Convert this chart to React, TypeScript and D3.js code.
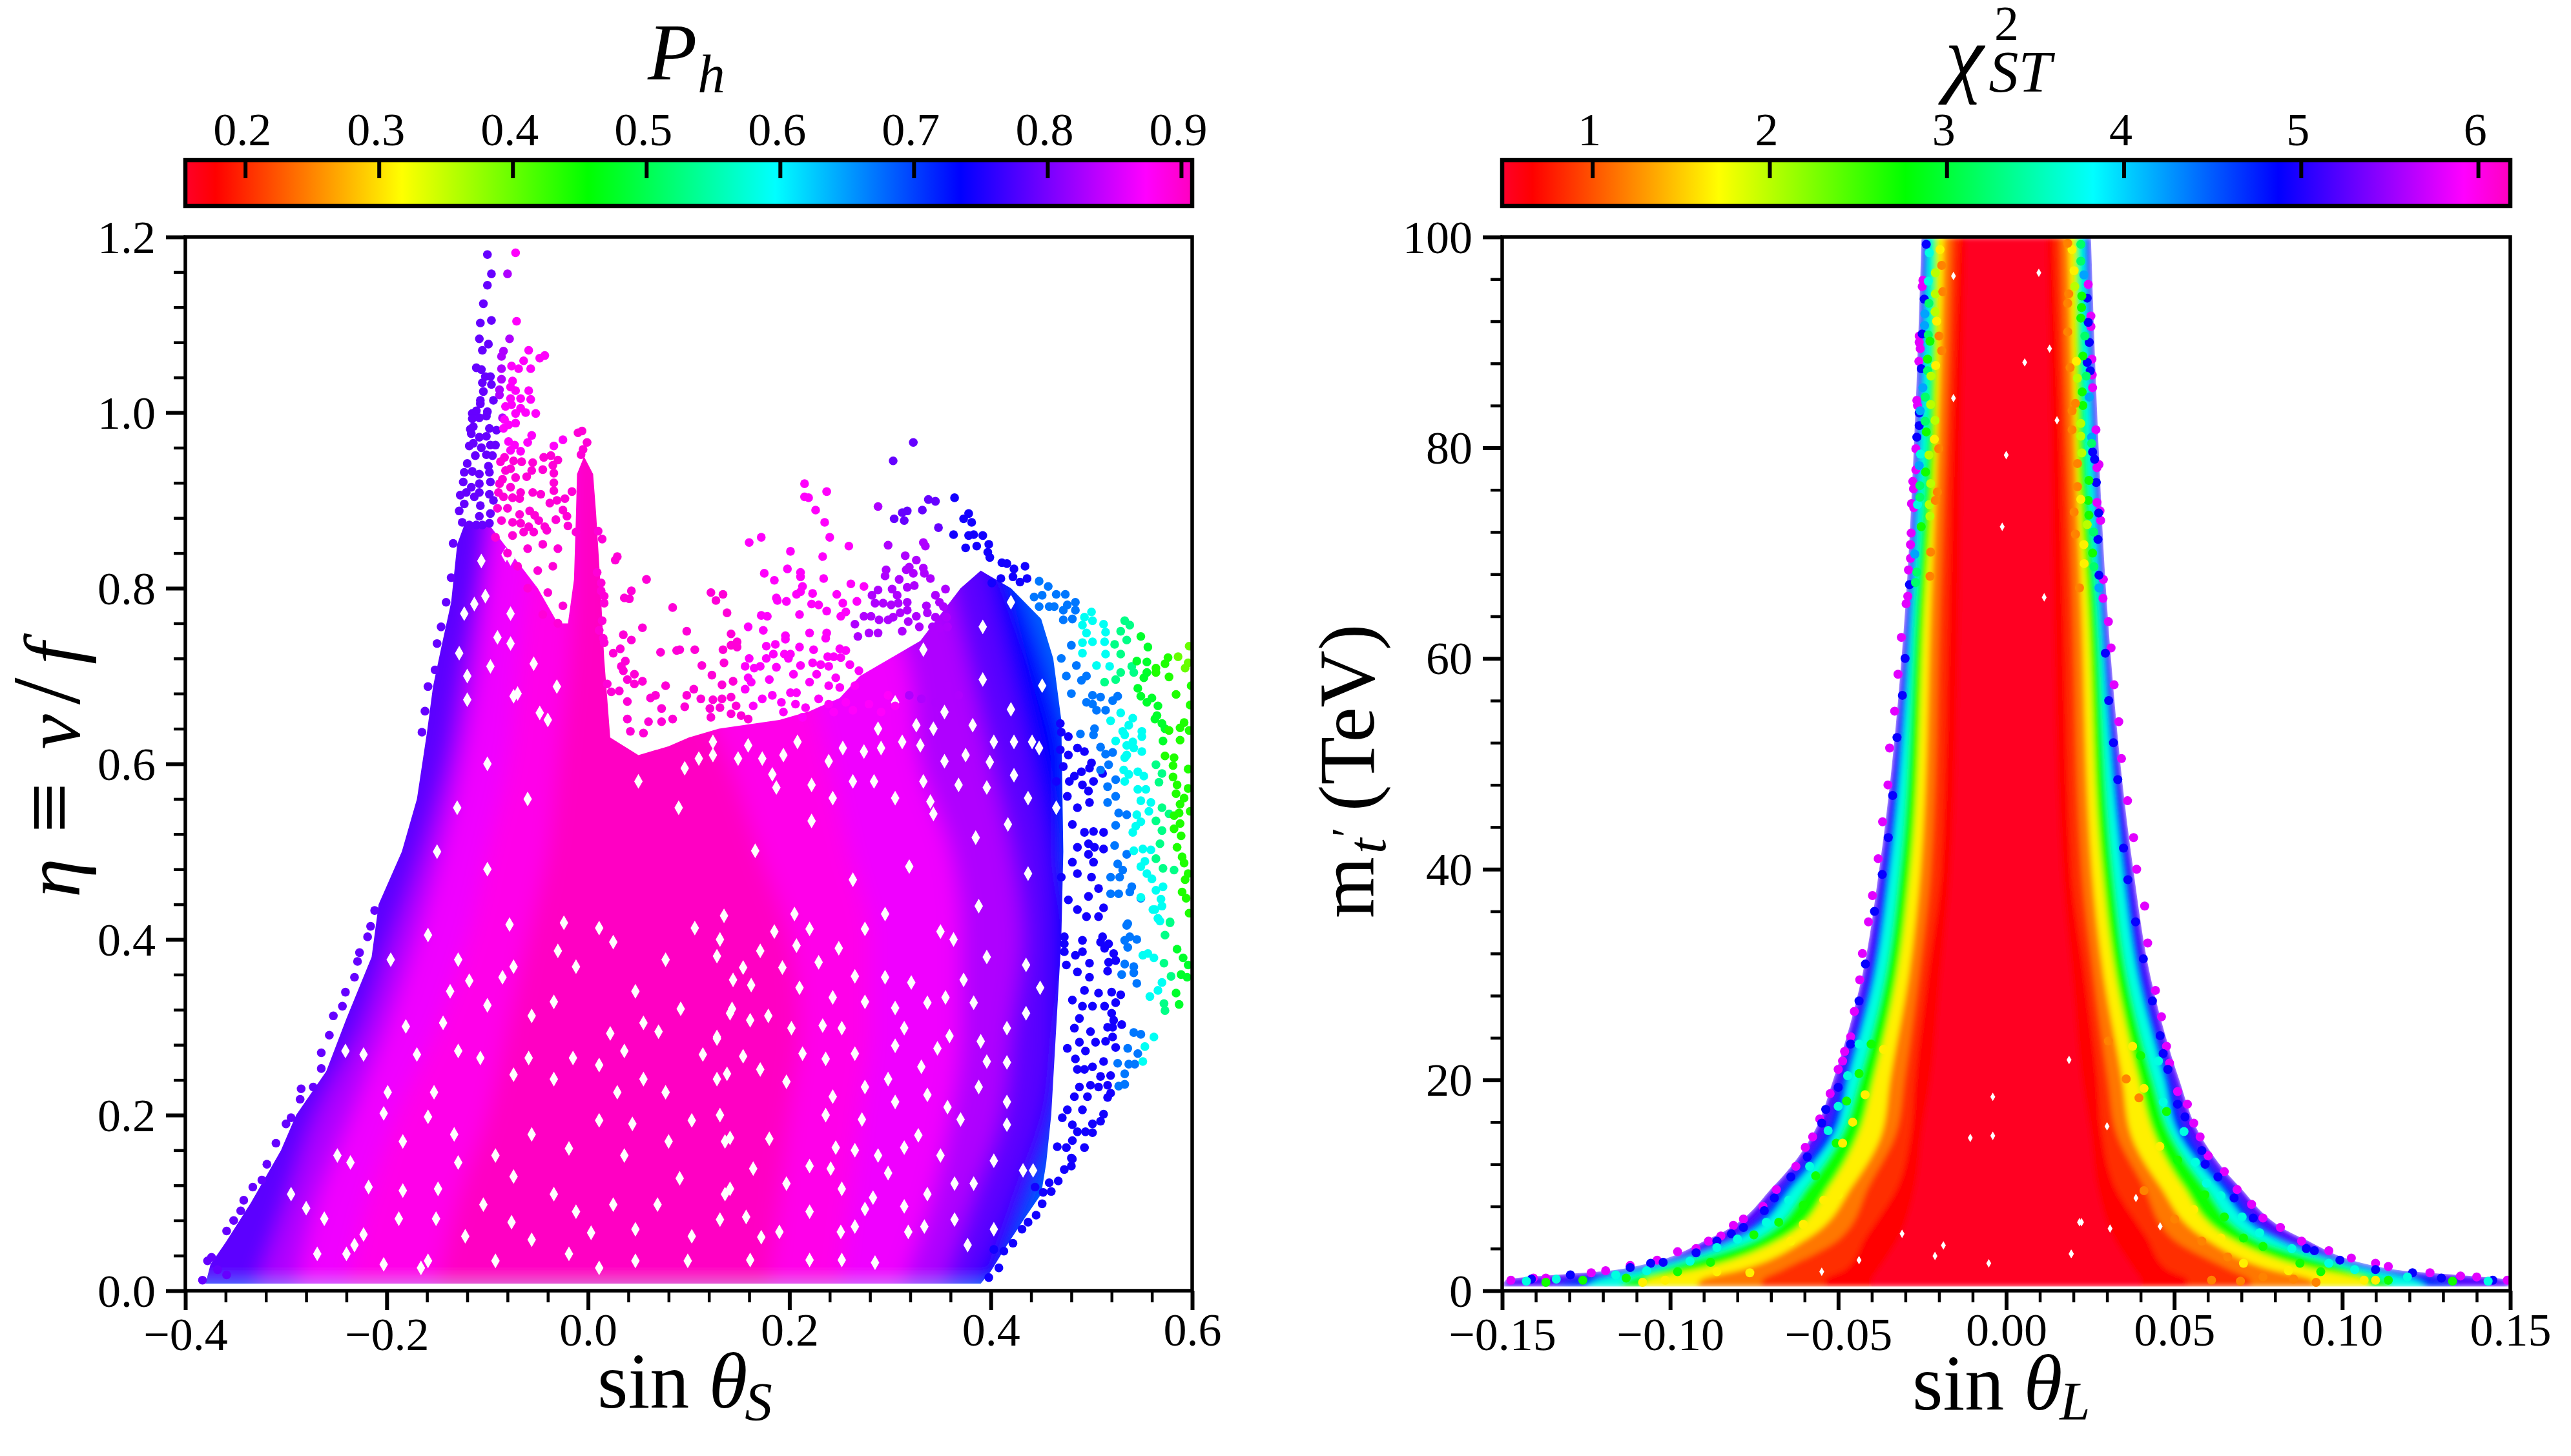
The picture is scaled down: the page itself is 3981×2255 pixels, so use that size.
import { useEffect, useRef } from "react";
import * as d3 from "d3";

type Pt = [number, number];

// gist_rainbow, as seen on both colour bars
const cmapPos = [0, 0.03, 0.215, 0.4, 0.586, 0.77, 0.954, 1];
const cmapColors = ["#ff0029", "#ff0000", "#ffff00", "#00ff00", "#00ffff", "#0000ff", "#ff00ff", "#ff00bf"];

const phRange: Pt = [0.155, 0.908];
const phTicks = [0.2, 0.3, 0.4, 0.5, 0.6, 0.7, 0.8, 0.9];
const chiRange: Pt = [0.489, 6.18];
const chiTicks = [1, 2, 3, 4, 5, 6];

const leftXTicks = [-0.4, -0.2, 0, 0.2, 0.4, 0.6];
const leftYTicks = [0, 0.2, 0.4, 0.6, 0.8, 1.0, 1.2];
const leftXMinor = [-0.36, -0.32, -0.28, -0.24, -0.16, -0.12, -0.08, -0.04, 0.04, 0.08, 0.12, 0.16, 0.24, 0.28, 0.32, 0.36, 0.44, 0.48, 0.52, 0.56];
const leftYMinor = [0.04, 0.08, 0.12, 0.16, 0.24, 0.28, 0.32, 0.36, 0.44, 0.48, 0.52, 0.56, 0.64, 0.68, 0.72, 0.76, 0.84, 0.88, 0.92, 0.96, 1.04, 1.08, 1.12, 1.16];
const rightXTicks = [-0.15, -0.1, -0.05, 0, 0.05, 0.1, 0.15];
const rightYTicks = [0, 20, 40, 60, 80, 100];
const rightXMinor = [-0.14, -0.13, -0.12, -0.11, -0.09, -0.08, -0.07, -0.06, -0.04, -0.03, -0.02, -0.01, 0.01, 0.02, 0.03, 0.04, 0.06, 0.07, 0.08, 0.09, 0.11, 0.12, 0.13, 0.14];
const rightYMinor = [4, 8, 12, 16, 24, 28, 32, 36, 44, 48, 52, 56, 64, 68, 72, 76, 84, 88, 92, 96];

// left panel: edge of the dense part of the cloud, (sin theta_S, eta)
const bodyOutline: Pt[] = [
  [-0.38, 0.008], [-0.375, 0.03], [-0.36, 0.055], [-0.335, 0.1], [-0.305, 0.16], [-0.29, 0.2], [-0.26, 0.25], [-0.24, 0.31], [-0.215, 0.38], [-0.208, 0.44],
  [-0.185, 0.5], [-0.17, 0.56], [-0.16, 0.636], [-0.154, 0.688], [-0.145, 0.737], [-0.136, 0.784], [-0.13, 0.85], [-0.122, 0.875], [-0.1, 0.875], [-0.09, 0.86],
  [-0.07, 0.83], [-0.05, 0.8], [-0.03, 0.76], [-0.02, 0.76], [-0.014, 0.81], [-0.012, 0.885], [-0.011, 0.93], [-0.004, 0.95], [0.005, 0.93], [0.008, 0.885],
  [0.012, 0.81], [0.016, 0.72], [0.022, 0.63], [0.05, 0.61], [0.08, 0.62], [0.1, 0.63], [0.13, 0.64], [0.16, 0.645], [0.19, 0.65], [0.22, 0.66],
  [0.25, 0.675], [0.27, 0.7], [0.3, 0.72], [0.33, 0.74], [0.35, 0.77], [0.37, 0.8], [0.39, 0.82], [0.42, 0.8], [0.45, 0.765], [0.462, 0.72],
  [0.47, 0.65], [0.472, 0.5], [0.47, 0.4], [0.465, 0.3], [0.46, 0.2], [0.455, 0.145], [0.45, 0.11], [0.435, 0.085], [0.415, 0.05],
  [0.4, 0.022], [0.39, 0.008],
];

// left panel: where P_h changes colour, read row by row
const etaRows = [0, 0.1, 0.2, 0.3, 0.4, 0.5, 0.6, 0.7, 0.8, 0.9, 1.0];
const farLeft = [-0.6, -0.6, -0.6, -0.6, -0.6, -0.6, -0.6, -0.6, -0.6, -0.6, -0.6];
const rightP68 = [0.45, 0.48, 0.51, 0.52, 0.52, 0.52, 0.51, 0.5, 0.48, 0.46, 0.46];
const rightP735 = [0.41, 0.44, 0.47, 0.48, 0.49, 0.48, 0.48, 0.46, 0.43, 0.4, 0.4];
const rightP78 = [0.38, 0.42, 0.45, 0.46, 0.46, 0.455, 0.44, 0.42, 0.4, 0.38, 0.38];
const leftP83 = [-0.33, -0.3, -0.27, -0.225, -0.195, -0.165, -0.14, -0.125, -0.11, -0.1, -0.095];
const rightP83 = [0.35, 0.38, 0.41, 0.42, 0.43, 0.42, 0.4, 0.38, 0.36, 0.34, 0.34];
const leftP865 = [-0.29, -0.27, -0.235, -0.2, -0.17, -0.145, -0.125, -0.11, -0.1, -0.09, -0.085];
const rightP865 = [0.31, 0.34, 0.36, 0.37, 0.37, 0.36, 0.33, 0.32, 0.3, 0.3, 0.3];
const leftP885 = [-0.24, -0.22, -0.19, -0.15, -0.12, -0.1, -0.08, -0.07, -0.06, -0.05, -0.05];
const rightP885 = [0.25, 0.26, 0.27, 0.28, 0.28, 0.26, 0.24, 0.22, 0.2, 0.2, 0.2];
const leftP905 = [-0.15, -0.13, -0.1, -0.08, -0.06, -0.04, -0.03, -0.02, -0.015, -0.015, -0.012];
const rightP905 = [0.18, 0.19, 0.2, 0.21, 0.2, 0.17, 0.14, 0.1, 0.05, 0.02, 0.012];

const dotsP79: Pt[] = [
  [-0.1, 1.18], [-0.096, 1.158], [-0.1, 1.145], [-0.104, 1.124], [-0.107, 1.102], [-0.108, 1.084], [-0.099, 1.078], [-0.105, 1.071], [-0.096, 1.105], [-0.111, 1.051],
  [-0.106, 1.049], [-0.102, 1.041], [-0.097, 1.041], [-0.105, 1.034], [-0.096, 1.032], [-0.104, 1.024], [-0.107, 1.014], [-0.107, 1.01], [-0.094, 1.014], [-0.115, 0.999],
  [-0.111, 1.002], [-0.1, 1.001], [-0.115, 0.993], [-0.108, 0.994], [-0.101, 0.996], [-0.117, 0.981], [-0.114, 0.984], [-0.116, 0.976], [-0.108, 0.972], [-0.101, 0.973],
  [-0.098, 0.982], [-0.091, 0.98], [-0.118, 0.962], [-0.114, 0.965], [-0.106, 0.96], [-0.097, 0.963], [-0.092, 0.963], [-0.101, 0.952], [-0.112, 0.951], [-0.095, 0.951],
  [-0.12, 0.942], [-0.123, 0.932], [-0.115, 0.933], [-0.108, 0.93], [-0.099, 0.939], [-0.098, 0.932], [-0.124, 0.921], [-0.097, 0.921], [-0.116, 0.915], [-0.108, 0.919],
  [-0.121, 0.909], [-0.127, 0.906], [-0.113, 0.904], [-0.108, 0.909], [-0.098, 0.907], [-0.123, 0.896], [-0.094, 0.9], [-0.128, 0.888], [-0.107, 0.894], [-0.108, 0.882],
  [-0.097, 0.885], [-0.125, 0.875], [-0.118, 0.872], [-0.111, 0.872], [-0.105, 0.872], [-0.098, 0.874], [-0.134, 0.851], [-0.136, 0.812], [-0.141, 0.784], [-0.146, 0.756],
  [-0.15, 0.737], [-0.152, 0.707], [-0.159, 0.688], [-0.162, 0.66], [-0.165, 0.636],
  [0.323, 0.966], [0.303, 0.945], [0.338, 0.901], [0.345, 0.899], [0.332, 0.889], [0.312, 0.886], [0.317, 0.888], [0.304, 0.879], [0.314, 0.877], [0.348, 0.869],
  [-0.383, 0.012], [-0.378, 0.034], [-0.374, 0.038], [-0.359, 0.068], [-0.352, 0.08], [-0.345, 0.091], [-0.342, 0.103], [-0.333, 0.118], [-0.324, 0.126], [-0.319, 0.144],
  [-0.31, 0.168], [-0.3, 0.19], [-0.295, 0.197], [-0.285, 0.23], [-0.286, 0.218], [-0.273, 0.232], [-0.265, 0.253], [-0.265, 0.271], [-0.257, 0.291], [-0.253, 0.313],
  [-0.244, 0.324], [-0.241, 0.34], [-0.232, 0.357], [-0.229, 0.375], [-0.227, 0.385], [-0.219, 0.403], [-0.216, 0.415], [-0.212, 0.433], [-0.368, 0.024], [-0.359, 0.018],
];
const dotsP83: Pt[] = [
  [-0.08, 1.158], [-0.078, 1.084], [-0.084, 1.07], [-0.086, 1.064], [-0.086, 1.05], [-0.086, 1.038], [-0.088, 1.026], [-0.088, 1.02], [-0.085, 0.994],
  [0.288, 0.893], [0.298, 0.849], [0.315, 0.837], [0.326, 0.832], [0.333, 0.852], [0.335, 0.848], [0.296, 0.821], [0.295, 0.814], [0.316, 0.821], [0.319, 0.824], [0.323, 0.817],
  [0.333, 0.823], [0.334, 0.817], [0.34, 0.811], [0.309, 0.81], [0.317, 0.801], [0.324, 0.803], [0.302, 0.799], [0.288, 0.798], [0.282, 0.792], [0.307, 0.792],
  [0.285, 0.783], [0.293, 0.783], [0.301, 0.781], [0.308, 0.783], [0.317, 0.784], [0.317, 0.775], [0.345, 0.792], [0.355, 0.799], [0.349, 0.784], [0.353, 0.779],
  [0.336, 0.78], [0.31, 0.772], [0.303, 0.767], [0.298, 0.764], [0.326, 0.768], [0.337, 0.772], [0.345, 0.767], [0.356, 0.767], [0.318, 0.762], [0.274, 0.768],
  [0.281, 0.768], [0.289, 0.764], [0.265, 0.759], [0.329, 0.756], [0.342, 0.756], [0.349, 0.754], [0.357, 0.756], [0.312, 0.751], [0.279, 0.749], [0.288, 0.749],
  [0.268, 0.745], [0.319, 0.678], [0.331, 0.674], [0.345, 0.67], [0.357, 0.689], [0.368, 0.678],
];
const dotsP875: Pt[] = [
  [-0.072, 1.182], [-0.071, 1.104], [-0.059, 1.071], [-0.048, 1.062], [-0.043, 1.065], [-0.064, 1.059], [-0.076, 1.053], [-0.069, 1.05], [-0.057, 1.05], [-0.075, 1.036],
  [-0.077, 1.029], [-0.072, 1.025], [-0.059, 1.025], [-0.077, 1.016], [-0.067, 1.016], [-0.057, 1.015], [-0.082, 1.007], [-0.076, 1.009], [-0.067, 1.005], [-0.062, 1.0],
  [-0.052, 0.999], [-0.072, 0.999], [-0.083, 0.992], [-0.079, 0.986], [-0.072, 0.988], [-0.084, 0.982], [-0.056, 0.974], [-0.06, 0.966], [-0.079, 0.967], [-0.073, 0.963],
  [-0.077, 0.957], [-0.067, 0.956], [-0.034, 0.962], [-0.025, 0.969],
  [0.215, 0.919], [0.237, 0.91], [0.215, 0.904], [0.219, 0.903], [0.226, 0.889], [0.235, 0.875], [0.24, 0.858], [0.259, 0.848], [0.172, 0.858], [0.16, 0.852],
  [0.201, 0.842], [0.233, 0.836], [0.198, 0.822], [0.211, 0.818], [0.211, 0.813], [0.175, 0.817], [0.185, 0.809], [0.234, 0.811], [0.261, 0.805], [0.274, 0.802],
  [0.213, 0.802], [0.211, 0.796], [0.207, 0.793], [0.223, 0.794], [0.247, 0.793], [0.187, 0.789], [0.188, 0.786], [0.197, 0.785], [0.222, 0.782], [0.229, 0.781],
  [0.253, 0.783], [0.267, 0.785], [0.237, 0.774], [0.256, 0.773], [0.251, 0.768], [0.21, 0.77], [0.172, 0.769], [0.178, 0.768], [0.159, 0.756], [0.174, 0.752],
  [0.22, 0.749], [0.196, 0.746], [0.196, 0.742], [0.237, 0.749], [0.236, 0.743], [0.21, 0.733], [0.177, 0.734], [0.186, 0.736], [0.224, 0.73], [0.25, 0.731],
  [0.256, 0.729], [0.184, 0.725], [0.177, 0.72], [0.195, 0.725], [0.201, 0.725], [0.199, 0.72], [0.238, 0.722], [0.244, 0.722], [0.16, 0.72], [0.156, 0.711],
  [0.165, 0.709], [0.171, 0.711], [0.187, 0.71], [0.211, 0.712], [0.223, 0.715], [0.231, 0.713], [0.239, 0.711], [0.251, 0.721], [0.26, 0.713], [0.159, 0.698],
  [0.227, 0.702], [0.204, 0.702], [0.269, 0.706], [0.246, 0.698], [0.156, 0.685], [0.162, 0.693], [0.18, 0.696], [0.201, 0.681], [0.207, 0.681], [0.22, 0.693],
  [0.239, 0.689], [0.25, 0.687], [0.265, 0.689],
  [0.164, 0.666], [0.173, 0.674], [0.183, 0.678], [0.192, 0.67], [0.194, 0.659], [0.206, 0.668], [0.216, 0.664], [0.213, 0.653], [0.229, 0.674], [0.239, 0.668],
  [0.256, 0.67], [0.244, 0.659], [0.263, 0.661], [0.279, 0.668], [0.291, 0.659], [0.298, 0.678], [0.305, 0.666],
];
const dotsP895: Pt[] = [
  [-0.01, 0.977], [-0.006, 0.979], [-0.001, 0.966], [-0.005, 0.958], [-0.007, 0.952], [-0.044, 0.949], [-0.037, 0.951], [-0.03, 0.946], [-0.035, 0.94], [-0.055, 0.943],
  [-0.066, 0.944], [-0.074, 0.945], [-0.083, 0.949], [-0.087, 0.944], [-0.056, 0.934], [-0.045, 0.935], [-0.034, 0.931], [-0.061, 0.927], [-0.072, 0.926], [-0.082, 0.934],
  [-0.077, 0.936], [-0.085, 0.924], [-0.088, 0.919], [-0.034, 0.92], [-0.034, 0.911], [-0.055, 0.909], [-0.047, 0.907], [-0.016, 0.91], [-0.023, 0.902], [-0.031, 0.9],
  [-0.038, 0.897], [-0.077, 0.915], [-0.067, 0.909], [-0.075, 0.903], [-0.068, 0.902], [-0.089, 0.909], [-0.084, 0.904], [-0.09, 0.891], [-0.08, 0.891], [-0.068, 0.884],
  [-0.058, 0.888], [-0.053, 0.883], [-0.049, 0.877], [-0.032, 0.878], [-0.025, 0.889], [-0.021, 0.882], [-0.075, 0.875], [-0.043, 0.87], [-0.02, 0.871], [-0.086, 0.877],
  [-0.067, 0.874], [-0.059, 0.87], [-0.041, 0.866], [-0.054, 0.864], [-0.012, 0.864], [-0.092, 0.858], [-0.075, 0.86], [-0.064, 0.864], [-0.08, 0.84], [-0.06, 0.845],
  [-0.045, 0.85], [-0.03, 0.845], [-0.07, 0.825], [-0.05, 0.82], [-0.035, 0.825], [-0.06, 0.8], [-0.04, 0.795], [-0.025, 0.78], [-0.03, 0.76], [-0.045, 0.77],
  [0.01, 0.865], [0.014, 0.856], [0.029, 0.836], [0.027, 0.832], [0.058, 0.81], [0.043, 0.797], [0.036, 0.789], [0.041, 0.788], [0.084, 0.778], [0.054, 0.755],
  [0.035, 0.747], [0.043, 0.741], [0.032, 0.731], [0.025, 0.726], [0.072, 0.727], [0.088, 0.729], [0.037, 0.717], [0.033, 0.711], [0.035, 0.706], [0.046, 0.702],
  [0.039, 0.696], [0.054, 0.694], [0.046, 0.691], [0.077, 0.689], [0.019, 0.691], [0.031, 0.683], [0.023, 0.682], [0.067, 0.678], [0.062, 0.675], [0.039, 0.671],
  [0.073, 0.663], [0.039, 0.651], [0.06, 0.648], [0.073, 0.648], [0.084, 0.651], [0.042, 0.637], [0.055, 0.635], [0.013, 0.797], [0.016, 0.791], [0.009, 0.818],
  [0.013, 0.806], [0.016, 0.783], [0.014, 0.763], [0.011, 0.752], [0.015, 0.743], [0.016, 0.738], [0.122, 0.795], [0.134, 0.793], [0.127, 0.786], [0.138, 0.772],
  [0.098, 0.751], [0.142, 0.748], [0.148, 0.739], [0.142, 0.735], [0.148, 0.733], [0.134, 0.73], [0.106, 0.73], [0.091, 0.73], [0.135, 0.715], [0.113, 0.712],
  [0.123, 0.701], [0.133, 0.69], [0.144, 0.694], [0.105, 0.685], [0.098, 0.678], [0.112, 0.674], [0.124, 0.673], [0.133, 0.674], [0.142, 0.676], [0.096, 0.665],
  [0.121, 0.663], [0.122, 0.653], [0.131, 0.664], [0.142, 0.657], [0.147, 0.666], [0.152, 0.655], [0.159, 0.651],
];
const dotsP745: Pt[] = [
  [0.364, 0.903], [0.378, 0.885], [0.373, 0.879], [0.381, 0.875], [0.363, 0.861], [0.383, 0.861], [0.392, 0.86], [0.378, 0.86], [0.386, 0.848], [0.398, 0.85],
  [0.397, 0.841], [0.375, 0.846], [0.399, 0.835], [0.411, 0.829], [0.416, 0.828], [0.423, 0.822], [0.434, 0.825], [0.436, 0.811], [0.422, 0.813], [0.429, 0.807],
  [0.41, 0.811], [0.401, 0.806], [0.511, 0.403], [0.517, 0.395], [0.509, 0.397], [0.513, 0.39], [0.522, 0.384], [0.524, 0.376], [0.517, 0.374], [0.516, 0.364],
  [0.507, 0.339], [0.52, 0.34], [0.529, 0.337], [0.524, 0.328], [0.513, 0.324], [0.52, 0.316], [0.522, 0.308], [0.53, 0.303], [0.516, 0.3], [0.521, 0.3],
  [0.521, 0.289], [0.514, 0.284], [0.524, 0.277], [0.512, 0.261], [0.519, 0.245], [0.509, 0.244], [0.516, 0.234], [0.507, 0.232], [0.519, 0.225], [0.516, 0.22],
  [0.512, 0.201], [0.509, 0.193], [0.501, 0.19], [0.501, 0.18], [0.493, 0.163],
  [0.398, 0.015], [0.408, 0.026], [0.403, 0.047], [0.413, 0.045], [0.422, 0.054], [0.431, 0.07], [0.437, 0.078], [0.445, 0.086], [0.451, 0.099], [0.46, 0.113],
  [0.452, 0.112], [0.444, 0.118], [0.467, 0.125], [0.458, 0.123], [0.48, 0.142], [0.473, 0.138], [0.481, 0.15],
  [0.469, 0.646], [0.47, 0.636], [0.477, 0.631], [0.486, 0.618], [0.493, 0.614], [0.469, 0.616], [0.477, 0.61], [0.5, 0.601], [0.498, 0.595], [0.472, 0.597],
  [0.49, 0.591], [0.491, 0.576], [0.502, 0.58], [0.511, 0.589], [0.497, 0.569], [0.478, 0.58], [0.483, 0.586], [0.465, 0.58], [0.476, 0.563], [0.486, 0.55],
  [0.498, 0.556], [0.481, 0.531], [0.493, 0.522], [0.502, 0.523], [0.512, 0.522], [0.497, 0.509], [0.503, 0.505], [0.512, 0.503], [0.486, 0.505], [0.497, 0.497],
  [0.502, 0.488], [0.481, 0.488], [0.47, 0.471], [0.486, 0.475], [0.5, 0.471], [0.507, 0.458], [0.497, 0.449], [0.477, 0.445], [0.486, 0.434], [0.507, 0.426],
  [0.495, 0.426], [0.512, 0.436], [0.491, 0.399], [0.473, 0.403], [0.473, 0.395], [0.473, 0.386], [0.491, 0.386], [0.498, 0.373], [0.484, 0.382], [0.475, 0.371],
  [0.498, 0.357], [0.486, 0.363], [0.493, 0.342], [0.481, 0.331], [0.491, 0.324], [0.501, 0.324], [0.488, 0.31], [0.483, 0.299], [0.499, 0.295], [0.504, 0.283],
  [0.488, 0.283], [0.494, 0.273], [0.476, 0.276], [0.484, 0.264], [0.501, 0.255], [0.493, 0.252], [0.486, 0.252], [0.499, 0.234], [0.488, 0.232], [0.483, 0.221],
  [0.496, 0.221], [0.491, 0.206], [0.476, 0.206], [0.471, 0.197], [0.481, 0.189], [0.494, 0.181], [0.486, 0.181], [0.481, 0.171], [0.466, 0.164], [0.475, 0.163], [0.48, 0.151],
];
const dotsP67: Pt[] = [
  [0.448, 0.808], [0.457, 0.802], [0.474, 0.793], [0.465, 0.793], [0.451, 0.792], [0.443, 0.79], [0.448, 0.779], [0.458, 0.779], [0.463, 0.779], [0.476, 0.781],
  [0.484, 0.784], [0.472, 0.775], [0.484, 0.775], [0.472, 0.764], [0.481, 0.765], [0.501, 0.678], [0.509, 0.676], [0.495, 0.67], [0.501, 0.668], [0.505, 0.661],
  [0.514, 0.661], [0.521, 0.672], [0.526, 0.677], [0.503, 0.64], [0.502, 0.633], [0.489, 0.634], [0.509, 0.619], [0.514, 0.611], [0.521, 0.613], [0.517, 0.599],
  [0.509, 0.593], [0.524, 0.582], [0.516, 0.574], [0.524, 0.563], [0.516, 0.556], [0.527, 0.544], [0.535, 0.542], [0.524, 0.53], [0.523, 0.507], [0.535, 0.497],
  [0.526, 0.486], [0.531, 0.479], [0.528, 0.471], [0.519, 0.471], [0.54, 0.46], [0.538, 0.454], [0.549, 0.447], [0.527, 0.452], [0.519, 0.452], [0.536, 0.418],
  [0.545, 0.4], [0.538, 0.403], [0.533, 0.399], [0.536, 0.391], [0.535, 0.416], [0.533, 0.372], [0.542, 0.369], [0.542, 0.362], [0.53, 0.36], [0.545, 0.35],
  [0.542, 0.294], [0.536, 0.276], [0.543, 0.258], [0.537, 0.258], [0.533, 0.247], [0.533, 0.235], [0.527, 0.233], [0.526, 0.259], [0.549, 0.292], [0.546, 0.27],
  [0.47, 0.72], [0.48, 0.735], [0.475, 0.7], [0.485, 0.712], [0.49, 0.695], [0.48, 0.68], [0.495, 0.7],
];
const dotsP59: Pt[] = [
  [0.5, 0.773], [0.493, 0.767], [0.501, 0.763], [0.491, 0.758], [0.495, 0.749], [0.501, 0.739], [0.491, 0.738], [0.491, 0.726], [0.512, 0.759], [0.514, 0.75],
  [0.513, 0.739], [0.514, 0.725], [0.518, 0.711], [0.505, 0.712], [0.529, 0.658], [0.541, 0.652], [0.519, 0.649], [0.537, 0.644], [0.531, 0.637], [0.55, 0.637],
  [0.55, 0.631], [0.524, 0.626], [0.533, 0.633], [0.541, 0.625], [0.535, 0.621], [0.542, 0.618], [0.535, 0.61], [0.55, 0.614], [0.533, 0.607], [0.532, 0.593],
  [0.546, 0.591], [0.552, 0.586], [0.537, 0.588], [0.533, 0.58], [0.546, 0.571], [0.554, 0.571], [0.549, 0.558], [0.559, 0.556], [0.557, 0.546], [0.545, 0.542],
  [0.549, 0.534], [0.544, 0.529], [0.541, 0.522], [0.542, 0.501], [0.551, 0.503], [0.559, 0.502], [0.553, 0.489], [0.549, 0.483], [0.555, 0.475], [0.56, 0.469],
  [0.571, 0.46], [0.564, 0.456], [0.569, 0.446], [0.549, 0.448], [0.57, 0.438], [0.563, 0.434], [0.566, 0.424], [0.561, 0.434], [0.568, 0.421], [0.556, 0.384],
  [0.551, 0.382], [0.562, 0.379], [0.558, 0.335], [0.566, 0.342], [0.57, 0.351], [0.562, 0.289], [0.553, 0.278], [0.551, 0.261],
];
const dotsP53: Pt[] = [
  [0.533, 0.763], [0.538, 0.758], [0.529, 0.751], [0.535, 0.741], [0.523, 0.736], [0.529, 0.725], [0.54, 0.711], [0.529, 0.704], [0.524, 0.696], [0.513, 0.693],
  [0.542, 0.704], [0.57, 0.55], [0.577, 0.543], [0.564, 0.535], [0.57, 0.524], [0.568, 0.509], [0.564, 0.492], [0.571, 0.481], [0.582, 0.479], [0.578, 0.42],
  [0.564, 0.599], [0.57, 0.589], [0.567, 0.579], [0.573, 0.405], [0.578, 0.419], [0.572, 0.373], [0.579, 0.358], [0.572, 0.327], [0.573, 0.319],
];
const dotsP48: Pt[] = [
  [0.549, 0.745], [0.556, 0.733], [0.555, 0.716], [0.545, 0.717], [0.555, 0.704], [0.552, 0.698], [0.546, 0.686], [0.549, 0.677], [0.555, 0.67], [0.56, 0.675],
  [0.566, 0.666], [0.565, 0.655], [0.563, 0.651], [0.57, 0.646], [0.573, 0.64], [0.571, 0.626], [0.585, 0.389], [0.591, 0.379], [0.596, 0.371], [0.589, 0.36],
  [0.595, 0.357], [0.584, 0.339], [0.587, 0.326],
];
const dotsP44: Pt[] = [
  [0.564, 0.709], [0.564, 0.704], [0.573, 0.714], [0.576, 0.721], [0.577, 0.699], [0.584, 0.679], [0.588, 0.641], [0.592, 0.647], [0.588, 0.627], [0.577, 0.638],
  [0.599, 0.689], [0.598, 0.667], [0.597, 0.638], [0.573, 0.609], [0.582, 0.607], [0.581, 0.598], [0.596, 0.594], [0.581, 0.585], [0.585, 0.576], [0.584, 0.566],
  [0.596, 0.572], [0.592, 0.561], [0.588, 0.554], [0.582, 0.541], [0.587, 0.544], [0.588, 0.532], [0.582, 0.526], [0.589, 0.518], [0.585, 0.505], [0.59, 0.494],
  [0.592, 0.487], [0.596, 0.475], [0.593, 0.468], [0.59, 0.454], [0.594, 0.447], [0.597, 0.43], [0.598, 0.546],
];
const dotsP40: Pt[] = [[0.586, 0.722], [0.593, 0.709], [0.597, 0.734], [0.596, 0.715]];

// left panel: white gaps between dots inside the dense part
const leftGaps: Pt[] = [
  [0.135, 0.427], [0.205, 0.429], [0.171, 0.387], [0.207, 0.393], [0.144, 0.354], [0.162, 0.348], [0.161, 0.308], [0.179, 0.313], [0.202, 0.299], [0.252, 0.299],
  [0.275, 0.329], [0.295, 0.357], [0.321, 0.351], [0.355, 0.334], [0.383, 0.328], [0.314, 0.299], [0.359, 0.29], [0.347, 0.276], [0.388, 0.232], [0.275, 0.232],
  [0.243, 0.221], [0.141, 0.174], [0.18, 0.173], [0.265, 0.16], [0.288, 0.154], [0.22, 0.142], [0.241, 0.139], [0.283, 0.106], [0.22, 0.09], [0.172, 0.061],
  [0.251, 0.067], [0.265, 0.073], [0.298, 0.134], [0.39, 0.284], [0.416, 0.26], [0.35, 0.409], [0.295, 0.429], [0.275, 0.412], [0.363, 0.4], [0.229, 0.374],
  [0.128, 0.287], [0.131, 0.2], [0.141, 0.116], [0.157, 0.084], [0.19, 0.067], [0.334, 0.073], [0.337, 0.11], [0.432, 0.137], [0.364, 0.081], [0.314, 0.096],
  [0.383, 0.122], [0.416, 0.215], [0.37, 0.195], [0.328, 0.177], [0.213, 0.27], [0.171, 0.252], [0.298, 0.241], [0.272, 0.195], [0.246, 0.163],
  [-0.196, 0.377], [-0.085, 0.357], [-0.159, 0.405], [-0.118, 0.353], [-0.034, 0.329], [-0.024, 0.419], [0.077, 0.377], [0.106, 0.413], [0.022, 0.293], [0.07, 0.295],
  [0.055, 0.241], [0.029, 0.226], [-0.034, 0.241], [-0.074, 0.246], [-0.107, 0.265], [-0.153, 0.226], [-0.199, 0.226], [-0.223, 0.269], [-0.159, 0.198], [-0.133, 0.178],
  [-0.092, 0.154], [-0.074, 0.13], [-0.034, 0.11], [0.036, 0.154], [0.091, 0.128], [0.136, 0.17], [0.044, 0.19], [0.103, 0.194], [-0.184, 0.114], [-0.149, 0.116],
  [-0.232, 0.052], [-0.203, 0.03], [-0.122, 0.062], [-0.076, 0.078], [-0.056, 0.058], [0.003, 0.066], [0.069, 0.098], [0.011, 0.026], [0.103, 0.062], [-0.159, 0.034],
  [-0.269, 0.042], [-0.28, 0.094], [-0.295, 0.11], [-0.236, 0.146], [-0.249, 0.154], [-0.241, 0.273], [-0.03, 0.387], [0.077, 0.226], [-0.019, 0.162], [0.025, 0.098],
  [0.114, 0.269], [0.128, 0.289], [0.055, 0.305], [0.011, 0.257], [-0.078, 0.417], [-0.129, 0.377], [0.025, 0.397],
  [0.333, 0.73], [0.392, 0.756], [0.42, 0.784], [0.448, 0.618], [0.392, 0.696], [0.305, 0.67], [0.451, 0.689], [0.403, 0.625], [0.368, 0.576], [0.343, 0.64],
  [0.263, 0.58], [0.194, 0.61], [0.159, 0.621], [0.124, 0.625], [0.243, 0.561], [0.183, 0.588], [0.417, 0.531], [0.465, 0.55], [0.319, 0.483], [0.385, 0.516],
  [0.343, 0.543], [0.222, 0.535], [0.166, 0.501], [0.263, 0.468], [0.441, 0.625], [0.437, 0.475], [0.388, 0.438], [-0.082, 0.838], [-0.102, 0.791], [-0.09, 0.744],
  [-0.12, 0.7], [-0.07, 0.68], [-0.04, 0.65], [0.05, 0.58], [0.09, 0.55], [-0.1, 0.6], [-0.06, 0.56], [-0.13, 0.55], [-0.15, 0.5], [-0.1, 0.48],
  [0.131, 0.4], [0.154, 0.368], [0.185, 0.409], [0.22, 0.412], [0.249, 0.39], [0.265, 0.358], [0.193, 0.368], [0.21, 0.345], [0.243, 0.334], [0.141, 0.316],
  [0.233, 0.302], [0.305, 0.322], [0.337, 0.328], [0.373, 0.354], [0.396, 0.38], [0.435, 0.371], [0.449, 0.345], [0.435, 0.316], [0.416, 0.299], [0.396, 0.261],
  [0.331, 0.255], [0.305, 0.279], [0.265, 0.27], [0.236, 0.264], [0.154, 0.267], [0.138, 0.247], [0.197, 0.238], [0.236, 0.2], [0.305, 0.215], [0.337, 0.223],
  [0.357, 0.209], [0.416, 0.189], [0.442, 0.137], [0.403, 0.148], [0.35, 0.154], [0.314, 0.163], [0.164, 0.139], [0.197, 0.122], [0.252, 0.116], [0.275, 0.093],
  [0.318, 0.067], [0.252, 0.035], [0.22, 0.035], [0.161, 0.035], [0.285, 0.032], [0.131, 0.081], [0.364, 0.122], [0.403, 0.07], [0.377, 0.052],
  [-0.137, 0.341], [-0.1, 0.325], [-0.074, 0.369], [-0.056, 0.313], [-0.012, 0.369], [0.011, 0.413], [0.047, 0.341], [0.092, 0.321], [0.128, 0.381], [0.143, 0.321],
  [0.036, 0.273], [-0.015, 0.265], [-0.059, 0.265], [-0.129, 0.273], [-0.17, 0.269], [-0.181, 0.301], [-0.144, 0.305], [-0.203, 0.202], [-0.184, 0.17], [-0.129, 0.146],
  [-0.056, 0.178], [0.011, 0.194], [0.08, 0.17], [0.128, 0.241], [-0.218, 0.118], [-0.188, 0.082], [-0.151, 0.082], [-0.104, 0.098], [-0.012, 0.09], [0.047, 0.07],
  [0.136, 0.11], [0.099, 0.034], [0.047, 0.034], [-0.019, 0.042], [-0.092, 0.034], [-0.166, 0.026], [-0.24, 0.042], [-0.262, 0.082], [-0.223, 0.064],
  [-0.106, 0.831], [-0.113, 0.782], [-0.123, 0.771], [-0.128, 0.726], [-0.097, 0.711], [-0.12, 0.673], [-0.077, 0.771], [-0.077, 0.834], [-0.077, 0.737], [-0.054, 0.714],
  [-0.031, 0.688], [-0.074, 0.677], [-0.048, 0.658],
  [0.124, 0.61], [0.11, 0.606], [0.149, 0.606], [0.173, 0.606], [0.208, 0.625], [0.239, 0.603], [0.253, 0.618], [0.274, 0.614], [0.291, 0.618], [0.312, 0.625],
  [0.33, 0.621], [0.354, 0.603], [0.375, 0.61], [0.096, 0.595], [0.187, 0.573], [0.222, 0.576], [0.284, 0.58], [0.305, 0.561], [0.333, 0.58], [0.34, 0.557],
  [0.396, 0.573], [0.423, 0.587], [0.437, 0.561], [0.399, 0.602], [0.423, 0.625], [0.42, 0.662], [0.382, 0.644], [0.354, 0.659], [0.326, 0.644], [0.288, 0.64],
];

// right panel: half width of each chi^2 band at these masses (the cloud is symmetric about 0)
const massRows = [0.4, 1, 2, 5, 10, 15, 20, 30, 40, 65, 80, 100];
const halfChi59 = [0.15, 0.149, 0.1156, 0.088, 0.069, 0.0573, 0.0515, 0.0428, 0.0378, 0.03, 0.0275, 0.0252];
const halfChi47 = [0.135, 0.131, 0.113, 0.0825, 0.0665, 0.0543, 0.0494, 0.041, 0.0365, 0.0291, 0.0266, 0.0246];
const halfChi37 = [0.125, 0.1217, 0.1076, 0.0794, 0.063, 0.051, 0.047, 0.039, 0.0345, 0.028, 0.0256, 0.0233];
const halfChi27 = [0.115, 0.113, 0.103, 0.0739, 0.059, 0.0488, 0.0438, 0.036, 0.0318, 0.0269, 0.0237, 0.0217];
const halfChi165 = [0.108, 0.107, 0.092, 0.0665, 0.0524, 0.0438, 0.0395, 0.0325, 0.0285, 0.0243, 0.0214, 0.0205];
const halfChi12 = [0.092, 0.091, 0.0788, 0.059, 0.0457, 0.037, 0.0346, 0.029, 0.0255, 0.0224, 0.0205, 0.0185];
const halfChi095 = [0.073, 0.0726, 0.0665, 0.0494, 0.0408, 0.0328, 0.0303, 0.026, 0.0225, 0.0198, 0.0182, 0.0163];
const halfChi065 = [0.054, 0.054, 0.048, 0.042, 0.0322, 0.0285, 0.0273, 0.0235, 0.0195, 0.0173, 0.0163, 0.0141];
const halfChi05 = [0.04, 0.04, 0.038, 0.032, 0.027, 0.025, 0.0225, 0.0195, 0.0165, 0.014, 0.0134, 0.0121];

const chiDots58: Pt[] = [
  [-0.025, 95.3], [-0.0248, 95.9], [-0.026, 88.2], [-0.0256, 89.4], [-0.0259, 90], [-0.0259, 90.6], [-0.0266, 84.5], [-0.0264, 84], [-0.0269, 79.9], [-0.0269, 77.9],
  [-0.0278, 76.8], [-0.0276, 76.1], [-0.0282, 74.7], [-0.0275, 74.3], [-0.0283, 71.9], [-0.0285, 70.8], [-0.0285, 69.5], [-0.0291, 68.4], [-0.0293, 65.9], [-0.0298, 65.2],
  [0.0252, 92.5], [0.0252, 91.5], [0.0244, 95.5], [0.0255, 88.4], [0.0256, 86.9], [0.0257, 85.7], [0.0267, 81.7], [0.0276, 78.4], [0.027, 78.1], [0.027, 74.8],
  [0.0279, 74], [0.0281, 73.1], [0.0289, 67.5], [0.0288, 65.7],
  [-0.0463, 24.1], [-0.0481, 22.7], [-0.0487, 21.8], [-0.05, 21], [-0.0524, 18.7], [-0.0555, 16.3], [-0.0576, 14.6], [-0.0598, 13.6], [-0.0626, 11.8], [-0.0684, 9.6],
  [-0.0724, 8], [-0.0782, 6.8], [-0.0812, 6.2], [-0.0849, 5.2], [-0.0886, 4.7], [-0.0923, 4], [-0.0978, 3.7], [-0.1039, 2.9], [-0.1119, 2.4], [-0.1192, 1.9],
  [-0.1235, 1.7], [-0.137, 1.2], [-0.1407, 1.2], [-0.1474, 1],
  [0.0477, 23.2], [0.0486, 21.6], [0.051, 18.9], [0.0539, 17.7], [0.0558, 15.9], [0.0577, 14.6], [0.0601, 12.8], [0.0649, 11.3], [0.0687, 9.6], [0.073, 8.2],
  [0.0764, 6.9], [0.0816, 6], [0.0879, 4.7], [0.096, 3.8], [0.1027, 3.1], [0.1099, 2.6], [0.1137, 2.3], [0.1261, 1.7], [0.1352, 1.4], [0.14, 1.3], [0.1491, 1],
  [-0.0452, 26.5], [-0.0436, 29.5], [-0.0428, 32], [-0.041, 35], [-0.0398, 37.5], [-0.0381, 41], [-0.0368, 44.5], [-0.0352, 48], [-0.0347, 51.5], [-0.0332, 55], [-0.0322, 58.5], [-0.0312, 62],
  [0.0462, 26], [0.0444, 28.5], [0.0421, 33], [0.0412, 36.5], [0.0388, 40], [0.0379, 43], [0.0361, 46.5], [0.0343, 50.5], [0.0335, 54], [0.0321, 57.5], [0.0312, 61], [0.0304, 63.5],
];
const chiDots49: Pt[] = [
  [-0.0238, 99.3], [-0.0244, 94.1], [-0.025, 90.8], [-0.0253, 87.5], [-0.0259, 83.3], [-0.0259, 82.1], [-0.0266, 81], [-0.0288, 67], [0.0241, 94.2], [0.0244, 91.9],
  [0.0247, 90], [0.0241, 88.1], [0.025, 87.3], [0.0257, 79.6], [0.0263, 78.9], [0.0268, 76.7], [0.0275, 73.8], [0.0273, 71.3], [0.0276, 67.9],
  [-0.0463, 23.4], [-0.05, 19.3], [-0.0537, 17.2], [-0.0549, 15.9], [-0.0592, 12.7], [-0.0641, 10.8], [-0.069, 8.8], [-0.072, 7.6], [-0.0782, 6], [-0.0818, 5.4],
  [-0.0861, 4.7], [-0.0923, 3.6], [-0.1021, 2.7], [-0.1058, 2.6], [-0.1119, 2.2], [-0.1297, 1.5], [-0.1413, 1.1],
  [0.0458, 24.2], [0.0467, 22.5], [0.0481, 21], [0.051, 17.7], [0.0532, 16.5], [0.0582, 13.3], [0.0592, 12], [0.063, 10.8], [0.0678, 8.8], [0.0735, 6.9],
  [0.0893, 4], [0.0917, 3.8], [0.0993, 2.9], [0.1099, 2], [0.1209, 1.7], [0.1295, 1.2], [0.1448, 1],
  [-0.0438, 27.5], [-0.0419, 31], [-0.0392, 36], [-0.0369, 39.5], [-0.0351, 43], [-0.0338, 47], [-0.0325, 52.5], [-0.0309, 56.5], [-0.0301, 60],
  [0.0435, 27.5], [0.0408, 31.5], [0.0385, 35], [0.0362, 39], [0.0349, 42], [0.0332, 48.5], [0.0319, 52], [0.0305, 56], [0.0295, 60.5],
];
const chiDots42: Pt[] = [
  [-0.0242, 92.7], [-0.0243, 91.6], [-0.0248, 85.7], [-0.0256, 83.5], [-0.0259, 78.3], [-0.0272, 69.9], [0.0231, 96.4], [0.0247, 84.8], [0.0254, 81], [0.0276, 66.7],
];
const chiDots37: Pt[] = [
  [-0.0229, 98.5], [-0.0232, 95.8], [-0.0255, 79.4], [-0.0264, 74.6],
  [-0.0438, 23.4], [-0.0472, 20.4], [-0.05, 17.5], [-0.053, 15.2], [-0.0585, 11.8], [-0.0647, 8.6], [-0.0714, 6.5], [-0.08, 4.9], [-0.0861, 4.1], [-0.0941, 2.8],
  [-0.107, 1.9], [-0.1162, 1.5], [-0.1339, 1.1], [-0.1428, 0.9],
  [0.0453, 21.8], [0.0467, 17.9], [0.0529, 15.1], [0.0563, 12.2], [0.0596, 10.2], [0.0639, 9], [0.0702, 7], [0.0754, 5.5], [0.085, 4], [0.096, 2.6],
  [0.1037, 2], [0.1194, 1.3], [0.1434, 0.9],
];
const chiDots32: Pt[] = [
  [-0.023, 93.7], [-0.0232, 90.7], [-0.0234, 87.3], [-0.0241, 84.8], [-0.0241, 82.5], [-0.0257, 76.4], [-0.0257, 75.3], [-0.0266, 68.2], [-0.027, 67.2], [0.0222, 99.3],
  [0.0222, 97.7], [0.0234, 90.6], [0.0238, 86.8], [0.0254, 80.4], [0.026, 72], [0.0261, 68.7],
];
const chiDots27: Pt[] = [
  [-0.0227, 90.1], [-0.0234, 88.4], [-0.0238, 81.5], [-0.024, 77.7], [-0.0253, 72.5], [0.0225, 94.4], [0.0224, 93.3], [0.0222, 92.3], [0.0228, 88.7], [0.0226, 85.3],
  [0.0228, 84], [0.0246, 76.9], [0.0244, 75], [0.0246, 73.6], [0.0257, 70],
  [-0.0402, 23.4], [-0.0438, 20.6], [-0.0475, 18], [-0.0506, 14], [-0.0567, 10.9], [-0.0604, 8.1], [-0.0677, 6.5], [-0.0751, 5.3], [-0.088, 2.7], [-0.0978, 1.8],
  [-0.1131, 1.2], [-0.126, 1], [-0.137, 0.8],
  [0.04, 22.3], [0.0477, 17], [0.051, 12.4], [0.0591, 9.1], [0.0649, 7], [0.0706, 5], [0.0764, 4.2], [0.0874, 2.6], [0.0936, 1.8], [0.1137, 1], [0.1328, 0.9],
];
const chiDots20: Pt[] = [
  [-0.0211, 96.6], [-0.0211, 94.6], [-0.0212, 92.9], [-0.0224, 86.8], [-0.0225, 84.1], [-0.0212, 82.6], [-0.023, 79.3], [-0.0225, 76.6], [-0.0229, 74.6], [-0.0227, 73.5],
  [0.0204, 95.3], [0.0212, 86.6], [0.0222, 82.3], [0.0222, 81.1], [0.0225, 79.5], [0.0241, 72.7],
];
const chiDots165: Pt[] = [
  [-0.0197, 98.8], [-0.0207, 92], [-0.021, 87.8], [-0.0214, 80.8], [0.0196, 98.8], [0.0202, 96.8], [0.0209, 88.2], [0.0222, 75.1], [0.0231, 70.8], [0.0232, 69],
  [-0.0365, 22.9], [-0.042, 18.6], [-0.0457, 16], [-0.0487, 14], [-0.05, 9.1], [-0.0543, 8.6], [-0.0604, 6.3], [-0.0641, 4.7], [-0.0763, 1.7], [-0.0861, 1.8],
  [-0.1015, 1], [-0.1082, 0.8],
  [0.0376, 23.2], [0.041, 19.2], [0.0457, 13.7], [0.0501, 9.6], [0.0558, 7.7], [0.0639, 5], [0.0706, 2.6], [0.084, 1.9], [0.1065, 1], [0.1099, 1],
];
const chiDots12: Pt[] = [
  [-0.0192, 97.3], [-0.0189, 94.8], [-0.02, 90.6], [-0.0192, 89.2], [-0.0201, 79.9], [-0.0205, 75.8], [-0.0211, 75], [-0.0225, 70.1], [-0.0227, 67.8], [0.0183, 99.4],
  [0.0186, 94.6], [0.0183, 93.7], [0.0183, 91], [0.019, 87.6], [0.0206, 84.2], [0.0196, 83.5], [0.0196, 81.7], [0.0212, 78.5], [0.0212, 76.3], [0.0202, 73.9],
  [0.0206, 71.8], [0.0218, 66.7], [0.0304, 23.7], [0.0357, 20.1], [0.0395, 18.3], [0.041, 9.5], [0.0501, 6.8], [0.0582, 4.7], [0.0659, 3.2], [0.0764, 1.3],
  [0.0855, 1.1], [0.0922, 0.8], [0.0697, 0.9], [0.0611, 1],
];
const rightGaps: Pt[] = [
  [0, 79.3], [-0.0012, 72.5], [0.0055, 88.1], [0.0129, 89.4], [0.0097, 96.6], [0.0113, 65.8], [0.0151, 82.6], [-0.0157, 84.7], [-0.0157, 96.3], [0.0187, 21.9],
  [-0.0052, 2.6], [-0.0187, 4.3], [0.0193, 3.5], [-0.004, 14.7], [-0.0107, 14.5], [-0.0438, 2.9], [-0.0212, 3.3], [-0.031, 5.4], [-0.0549, 1.8], [0.0224, 6.5],
  [-0.004, 18.4], [0.0386, 8.8], [0.0458, 6.1], [0.03, 15.6], [0.0218, 6.5], [0.0309, 5.9], [0.0194, 3.5],
];

const SERIF = "'Liberation Serif', serif";
const W = 3981;
const H = 2255;

// one piece of a math label: text, size, italic, dx, dy
type Piece = [string, number, boolean, number, number];

export default function App() {
  const svgRef = useRef<SVGSVGElement>(null);

  useEffect(() => {
    if (!svgRef.current) return;
    const svg = d3.select(svgRef.current);
    svg.selectAll("*").remove();
    svg.style("font-family", SERIF);

    const cmap = d3.scaleLinear<string>().domain(cmapPos).range(cmapColors).interpolate(d3.interpolateRgb);
    const defs = svg.append("defs");
    const grad = defs.append("linearGradient").attr("id", "rainbow");
    cmapPos.forEach((p, i) => grad.append("stop").attr("offset", `${p * 100}%`).attr("stop-color", cmapColors[i]));

    defs.append("filter").attr("id", "blurLeft").attr("x", "-10%").attr("y", "-10%").attr("width", "120%").attr("height", "120%")
      .append("feGaussianBlur").attr("stdDeviation", 16);
    defs.append("filter").attr("id", "blurRight").attr("x", "-10%").attr("y", "-10%").attr("width", "120%").attr("height", "120%")
      .append("feGaussianBlur").attr("stdDeviation", 4);

    const mathText = (transform: string, pieces: Piece[]) => {
      const t = svg.append("text").attr("transform", transform);
      pieces.forEach(([s, size, italic, dx, dy]) => {
        t.append("tspan").attr("font-size", size).attr("font-style", italic ? "italic" : "normal")
          .attr("dx", dx).attr("dy", dy).text(s);
      });
    };

    const fmt = (digits: number) => (d: d3.NumberValue) => {
      const v = +d;
      return (v < 0 ? "\u2212" : "") + Math.abs(v).toFixed(digits);
    };

    function drawFrame(
      g: d3.Selection<SVGGElement, unknown, null, undefined>,
      x: d3.ScaleLinear<number, number>,
      y: d3.ScaleLinear<number, number>,
      xMajor: number[], xMinor: number[], yMajor: number[], yMinor: number[],
      xFmt: (d: d3.NumberValue) => string, yFmt: (d: d3.NumberValue) => string,
    ) {
      const [x0, x1] = x.range();
      const [y0, y1] = y.range();
      // minor ticks
      g.append("g").attr("transform", `translate(0,${y0})`)
        .call(d3.axisBottom(x).tickValues(xMinor).tickSize(18).tickFormat(() => ""))
        .selectAll("line").attr("stroke", "#000").attr("stroke-width", 4.5);
      g.append("g").attr("transform", `translate(${x0},0)`)
        .call(d3.axisLeft(y).tickValues(yMinor).tickSize(18).tickFormat(() => ""))
        .selectAll("line").attr("stroke", "#000").attr("stroke-width", 4.5);
      // major ticks and labels
      const ax = g.append("g").attr("transform", `translate(0,${y0})`)
        .call(d3.axisBottom(x).tickValues(xMajor).tickSize(30).tickFormat(xFmt));
      ax.selectAll("line").attr("stroke", "#000").attr("stroke-width", 6);
      ax.selectAll<SVGTextElement, number>("text")
        .attr("fill", "#000").attr("font-family", SERIF).attr("font-size", 72)
        .attr("dy", null).attr("y", (d) => (d < 0 ? 92 : 85));
      const ay = g.append("g").attr("transform", `translate(${x0},0)`)
        .call(d3.axisLeft(y).tickValues(yMajor).tickSize(30).tickFormat(yFmt));
      ay.selectAll("line").attr("stroke", "#000").attr("stroke-width", 6);
      ay.selectAll("text")
        .attr("fill", "#000").attr("font-family", SERIF).attr("font-size", 72)
        .attr("dy", null).attr("x", -46).attr("dominant-baseline", null)
        .attr("transform", "translate(0,24)");
      g.selectAll(".domain").remove();
      g.append("rect").attr("x", x0).attr("y", y1).attr("width", x1 - x0).attr("height", y0 - y1)
        .attr("fill", "none").attr("stroke", "#000").attr("stroke-width", 5.5);
    }

    function drawColorbar(
      cx: d3.ScaleLinear<number, number>, ticks: number[], f: (d: d3.NumberValue) => string,
    ) {
      const [x0, x1] = cx.range();
      const top = 248;
      const bottom = 319;
      svg.append("rect").attr("x", x0).attr("y", top).attr("width", x1 - x0).attr("height", bottom - top)
        .attr("fill", "url(#rainbow)").attr("stroke", "#000").attr("stroke-width", 6.5);
      const g = svg.append("g");
      g.selectAll("line").data(ticks).join("line")
        .attr("x1", (d) => cx(d)).attr("x2", (d) => cx(d)).attr("y1", top).attr("y2", 276)
        .attr("stroke", "#000").attr("stroke-width", 6);
      g.selectAll("text").data(ticks).join("text")
        .attr("x", (d) => cx(d) - 5).attr("y", 225).attr("text-anchor", "middle").attr("font-size", 72).text((d) => f(d));
    }

    const PLOT_Y: Pt = [1999, 367];

    // ---------- left panel ----------
    const xL = d3.scaleLinear().domain([-0.4, 0.6]).range([287, 1846]);
    const yL = d3.scaleLinear().domain([0, 1.2]).range(PLOT_Y);
    const phNorm = d3.scaleLinear().domain(phRange).range([0, 1]);
    const phColor = (p: number) => cmap(phNorm(p));

    const clipL = defs.append("clipPath").attr("id", "plotL");
    clipL.append("rect").attr("x", 287).attr("y", 367).attr("width", 1559).attr("height", 1632);

    const outline = d3.line<Pt>().x((d) => xL(d[0])).y((d) => yL(d[1])).curve(d3.curveLinearClosed);
    defs.append("clipPath").attr("id", "bodyL").append("path").attr("d", outline(bodyOutline));

    const gL = svg.append("g").attr("clip-path", "url(#plotL)");
    const body = gL.append("g").attr("clip-path", "url(#bodyL)").append("g").attr("filter", "url(#blurLeft)");

    // bands run outside in, each row is [left edge, right edge] at etaRows[i]
    const phBands: [number, number[], number[]][] = [
      [0.68, farLeft, rightP68],
      [0.735, farLeft, rightP735],
      [0.785, farLeft, rightP78],
      [0.83, leftP83, rightP83],
      [0.865, leftP865, rightP865],
      [0.885, leftP885, rightP885],
      [0.906, leftP905, rightP905],
    ];
    body.append("rect").attr("x", 0).attr("y", 300).attr("width", 2000).attr("height", 1800).attr("fill", phColor(0.64));
    phBands.forEach(([p, lo, hi]) => {
      const area = d3.area<number>()
        .y((d) => yL(d))
        .x0((_, i) => xL(lo[i]))
        .x1((_, i) => xL(hi[i]))
        .curve(d3.curveMonotoneY);
      body.append("path").datum(etaRows).attr("d", area).attr("fill", phColor(p));
    });

    const gapL = d3.symbol().type(d3.symbolDiamond).size(150);
    gL.append("g").selectAll("path").data(leftGaps).join("path")
      .attr("d", gapL)
      .attr("transform", (d) => `translate(${xL(d[0])},${yL(d[1])})`)
      .attr("fill", "#fff");

    const phDots: [number, Pt[]][] = [
      [0.79, dotsP79], [0.83, dotsP83], [0.875, dotsP875], [0.895, dotsP895], [0.745, dotsP745], [0.67, dotsP67],
      [0.59, dotsP59], [0.53, dotsP53], [0.48, dotsP48], [0.44, dotsP44], [0.4, dotsP40],
    ];
    phDots.forEach(([p, pts]) => {
      gL.append("g").selectAll("circle").data(pts).join("circle")
        .attr("cx", (d) => xL(d[0])).attr("cy", (d) => yL(d[1])).attr("r", 6.8).attr("fill", phColor(p));
    });

    drawFrame(svg.append("g"), xL, yL, leftXTicks, leftXMinor, leftYTicks, leftYMinor, fmt(1), fmt(1));
    drawColorbar(d3.scaleLinear().domain(phRange).range([287, 1846]), phTicks, fmt(1));

    // ---------- right panel ----------
    const xR = d3.scaleLinear().domain([-0.15, 0.15]).range([2326, 3887]);
    const yR = d3.scaleLinear().domain([0, 100]).range(PLOT_Y);
    const chiNorm = d3.scaleLinear().domain(chiRange).range([0, 1]);
    const chiColor = (c: number) => cmap(chiNorm(c));

    const clipR = defs.append("clipPath").attr("id", "plotR");
    clipR.append("rect").attr("x", 2326).attr("y", 367).attr("width", 1561).attr("height", 1632);

    const bandArea = (half: number[]) =>
      d3.area<number>()
        .y((d) => yR(d))
        .x0((_, i) => xR(-half[i]))
        .x1((_, i) => xR(half[i]))
        .curve(d3.curveMonotoneY)(massRows);

    defs.append("clipPath").attr("id", "cloudR").append("path").attr("d", bandArea(halfChi59));

    const gR = svg.append("g").attr("clip-path", "url(#plotR)");
    const cloud = gR.append("g").attr("clip-path", "url(#cloudR)").append("g").attr("filter", "url(#blurRight)");
    const chiBands: [number, number[]][] = [
      [5.2, halfChi59], [4.7, halfChi47], [3.7, halfChi37], [2.7, halfChi27], [1.65, halfChi165],
      [1.15, halfChi12], [0.85, halfChi095], [0.65, halfChi065], [0.52, halfChi05],
    ];
    chiBands.forEach(([c, half]) => {
      cloud.append("path").attr("d", bandArea(half)).attr("fill", chiColor(c));
    });

    const gapR = d3.symbol().type(d3.symbolDiamond).size(50);
    gR.append("g").selectAll("path").data(rightGaps).join("path")
      .attr("d", gapR)
      .attr("transform", (d) => `translate(${xR(d[0])},${yR(d[1])})`)
      .attr("fill", "#fff");

    const chiDots: [number, Pt[]][] = [
      [5.8, chiDots58], [4.9, chiDots49], [4.2, chiDots42], [3.7, chiDots37], [3.2, chiDots32],
      [2.7, chiDots27], [2.0, chiDots20], [1.65, chiDots165], [1.2, chiDots12],
    ];
    chiDots.forEach(([c, pts]) => {
      gR.append("g").selectAll("circle").data(pts).join("circle")
        .attr("cx", (d) => xR(d[0])).attr("cy", (d) => yR(d[1])).attr("r", 7).attr("fill", chiColor(c));
    });

    drawFrame(svg.append("g"), xR, yR, rightXTicks, rightXMinor, rightYTicks, rightYMinor, fmt(2), fmt(0));
    drawColorbar(d3.scaleLinear().domain(chiRange).range([2326, 3887]), chiTicks, fmt(0));

    // ---------- titles and axis labels ----------
    mathText("translate(1003,123)", [["P", 125, true, 0, 0], ["h", 85, true, 1, 20]]);
    mathText("translate(3012,133)", [["\u03C7", 135, true, 0, 0], ["ST", 92, true, 8, 9]]);
    mathText("translate(3088,62)", [["2", 76, false, 0, 0]]);

    mathText("translate(925,2180)", [["sin", 122, false, 0, 0], ["\u03B8", 122, true, 30, 0], ["S", 85, true, -4, 20]]);
    mathText("translate(2961,2183)", [["sin", 122, false, 0, 0], ["\u03B8", 122, true, 30, 0], ["L", 85, true, -4, 16]]);

    mathText("translate(123,1390) rotate(-90)", [
      ["\u03B7", 122, true, 0, 0], ["\u2261", 140, false, 39, 0], ["v", 122, true, 51, 0], ["/", 150, false, 15, 0], ["f", 122, true, 21, 0],
    ]);
    mathText("translate(2127,1422) rotate(-90)", [
      ["m", 122, false, 0, 0], ["t", 85, true, 5, 18], ["\u2032", 70, false, 2, -35], ["(TeV)", 122, false, 25, 17],
    ]);
  }, []);

  return (
    <svg
      ref={svgRef}
      width={W}
      height={H}
      viewBox={`0 0 ${W} ${H}`}
      style={{ position: "absolute", left: 0, top: 0, background: "#fff" }}
    />
  );
}
